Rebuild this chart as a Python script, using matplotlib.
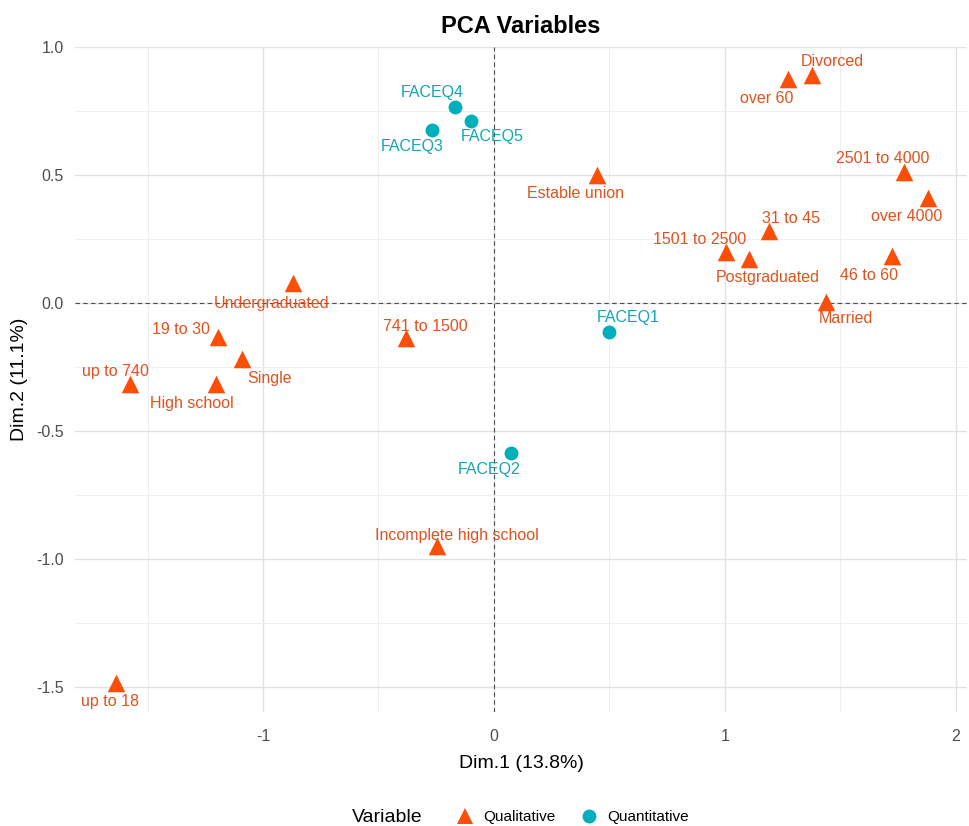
import matplotlib
matplotlib.use("Agg")
import matplotlib.pyplot as plt
from matplotlib.lines import Line2D
import numpy as np

plt.rcParams['font.family'] = ['Liberation Sans', 'DejaVu Sans']

# qualitative variable categories (Dim.1, Dim.2)
qual_names = ['Divorced', 'over 60', 'Estable union', '2501 to 4000', 'over 4000',
              '31 to 45', '1501 to 2500', 'Postgraduated', '46 to 60', 'Married',
              'Undergraduated', '19 to 30', 'Single', 'up to 740', 'High school',
              '741 to 1500', 'Incomplete high school', 'up to 18']
qual_x = [1.377, 1.273, 0.446, 1.775, 1.879, 1.190, 1.004, 1.104, 1.723, 1.437,
          -0.870, -1.195, -1.091, -1.576, -1.203, -0.381, -0.247, -1.636]
qual_y = [0.891, 0.875, 0.500, 0.512, 0.412, 0.281, 0.199, 0.172, 0.184, 0.004,
          0.078, -0.133, -0.219, -0.316, -0.316, -0.137, -0.950, -1.484]

# quantitative variables
quant_names = ['FACEQ4', 'FACEQ5', 'FACEQ3', 'FACEQ1', 'FACEQ2']
quant_x = [-0.169, -0.100, -0.268, 0.498, 0.074]
quant_y = [0.766, 0.711, 0.676, -0.113, -0.586]

# label placement (offset in pixels from the point, like ggrepel put them)
label_offsets = {
    'Divorced': (20, 13), 'over 60': (-21, -20), 'Estable union': (-21, -19),
    '2501 to 4000': (-21, 13), 'over 4000': (-21, -19), '31 to 45': (22, 13),
    '1501 to 2500': (-26, 13), 'Postgraduated': (19, -19), '46 to 60': (-23, -20),
    'Married': (20, -17), 'Undergraduated': (-21, -20), '19 to 30': (-37, 8),
    'Single': (28, -19), 'up to 740': (-15, 12), 'High school': (-24, -20),
    '741 to 1500': (19, 12), 'Incomplete high school': (20, 11), 'up to 18': (-6, -19),
    'FACEQ4': (-23, 14), 'FACEQ3': (-20, -17), 'FACEQ5': (21, -16),
    'FACEQ1': (19, 14), 'FACEQ2': (-22, -17),
}

orange = '#FC4E07'
teal = '#00AFBB'
orange_txt = '#E0521E'
teal_txt = '#12A6B1'

fig = plt.figure(figsize=(9.69, 8.26), dpi=100)
ax = fig.add_axes([75 / 969, 1 - 712 / 826, (967 - 75) / 969, (712 - 47) / 826])

ax.set_xlim(-1.814, 2.048)
ax.set_ylim(-1.598, 1.0)

# grid like theme_minimal
ax.set_xticks([-1, 0, 1, 2])
ax.set_xticklabels(['-1', '0', '1', '2'])
ax.set_yticks([-1.5, -1.0, -0.5, 0.0, 0.5, 1.0])
ax.set_yticklabels(['-1.5', '-1.0', '-0.5', '0.0', '0.5', '1.0'])
ax.set_xticks([-1.5, -0.5, 0.5, 1.5], minor=True)
ax.set_yticks([-1.25, -0.75, -0.25, 0.25, 0.75], minor=True)
ax.grid(True, which='major', color='#E2E2E2', linewidth=1.0)
ax.grid(True, which='minor', color='#EDEDED', linewidth=0.6)
ax.set_axisbelow(True)
for s in ax.spines.values():
    s.set_visible(False)
ax.tick_params(which='both', length=0, labelsize=11.5, labelcolor='#4D4D4D')
ax.tick_params(axis='x', pad=12)
ax.tick_params(axis='y', pad=8)

ax.axhline(0, color='#4D4D4D', linewidth=0.8, linestyle=(0, (4, 3)), zorder=1)
ax.axvline(0, color='#4D4D4D', linewidth=0.8, linestyle=(0, (4, 3)), zorder=1)

ax.scatter(qual_x, qual_y, marker='^', s=160, color=orange, linewidths=0, zorder=3)
ax.scatter(quant_x, quant_y, marker='o', s=100, color=teal, linewidths=0, zorder=3)

for name, x, y in zip(qual_names, qual_x, qual_y):
    ax.annotate(name, (x, y), xytext=label_offsets[name], textcoords='offset pixels',
                ha='center', va='center', fontsize=11.5, color=orange_txt, zorder=4)
for name, x, y in zip(quant_names, quant_x, quant_y):
    ax.annotate(name, (x, y), xytext=label_offsets[name], textcoords='offset pixels',
                ha='center', va='center', fontsize=11.5, color=teal_txt, zorder=4)

ax.set_title('PCA Variables', fontsize=17, fontweight='bold', pad=10)
ax.set_xlabel('Dim.1 (13.8%)', fontsize=14, labelpad=8)
ax.set_ylabel('Dim.2 (11.1%)', fontsize=14, labelpad=6)

# legend at the bottom
fig.text(387 / 969, 1 - 817 / 826, 'Variable', fontsize=14, ha='center', va='center')
handles = [
    Line2D([], [], marker='^', linestyle='', color=orange, markersize=12, markeredgewidth=0),
    Line2D([], [], marker='o', linestyle='', color=teal, markersize=10, markeredgewidth=0),
]
fig.legend(handles, ['Qualitative', 'Quantitative'], loc='center',
           bbox_to_anchor=(572 / 969, 1 - 817 / 826), ncol=2, frameon=False,
           fontsize=11, handletextpad=0.6, columnspacing=1.6, handlelength=1.2)

fig.savefig('out.png', dpi=100)
